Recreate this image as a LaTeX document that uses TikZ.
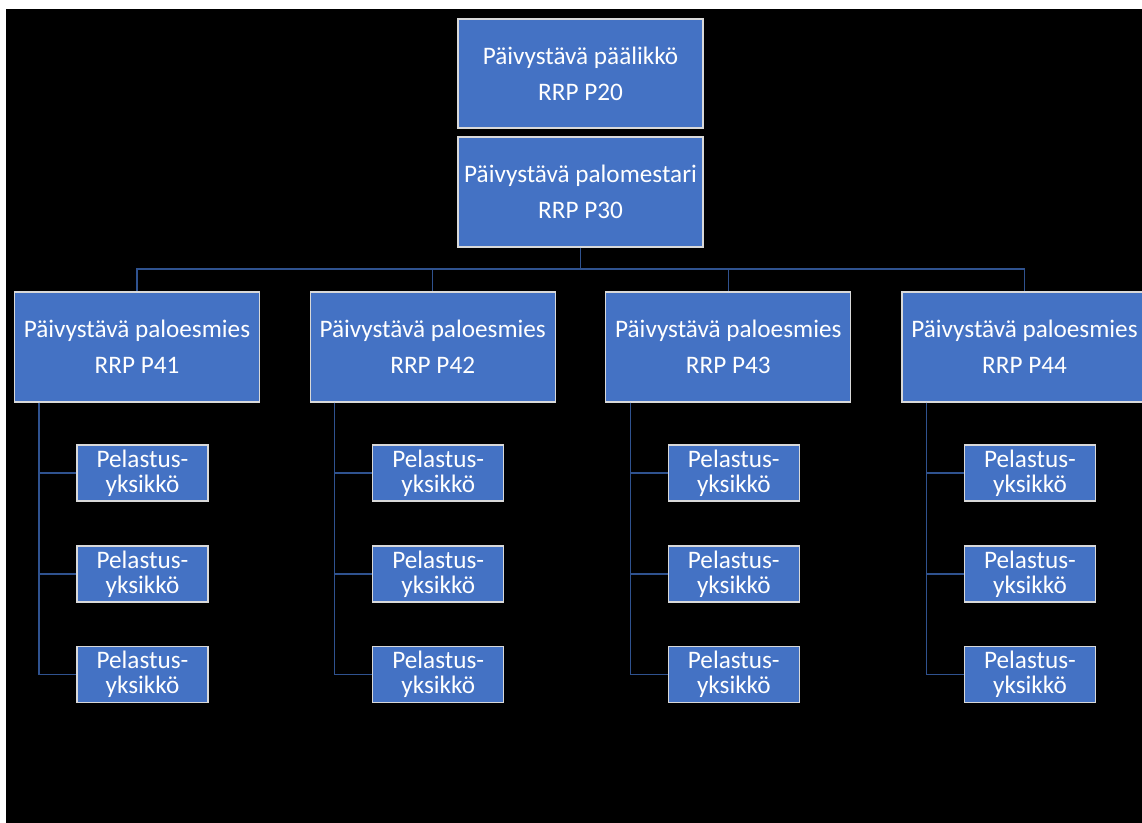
\documentclass[tikz,border=0pt]{standalone}
\usepackage{fontspec}
\setmainfont{Carlito}
\definecolor{boxfill}{HTML}{4472C4}
\definecolor{boxline}{HTML}{D9D9D9}
\definecolor{conn}{HTML}{2F528F}
\begin{document}
\begin{tikzpicture}[x=0.75pt,y=-0.75pt,
  box/.style={draw=boxline,line width=0.8pt,fill=boxfill,text=white,inner sep=0pt,
    align=center,font=\fontsize{18.9pt}{18.75pt}\selectfont},
  bigbox/.style={box,minimum width=245*0.75pt,minimum height=110*0.75pt},
  smallbox/.style={box,minimum width=131*0.75pt,minimum height=56*0.75pt},
  link/.style={draw=conn,line width=1.1pt}]
\useasboundingbox (0,0) rectangle (1142,823);
\clip (0,0) rectangle (1142,823);
\fill[white] (0,0) rectangle (1142,823);
\fill[black] (6,9) rectangle (1142,823);
\node[bigbox,minimum height=109*0.75pt] (p20) at (580.5,73.5) {Päivystävä päälikkö\\[8.25pt]RRP P20};
\node[bigbox] (p30) at (580.5,192) {Päivystävä palomestari\\[8.25pt]RRP P30};
\coordinate (bus) at (580.5,269);
\foreach \i/\cx in {1/137,2/432.7,3/728.3,4/1024.5}{
  \node[bigbox] (m\i) at (\cx,347) {Päivystävä paloesmies\\[8.25pt]RRP P4\i};
  \foreach \j/\cy in {1/473,2/574,3/674.5}{
    \node[smallbox] (s\i\j) at (\cx+5.5,\cy) {Pelastus-\\yksikkö};
  }
}
\draw[link] (p30.south) -- (bus);
\foreach \i in {1,...,4}{
  \draw[link] (bus) -| (m\i.north);
  \foreach \j in {1,2,3}{
    \draw[link] ([xshift=18.75pt]m\i.south west) |- (s\i\j.west);
  }
}
\end{tikzpicture}
\end{document}
